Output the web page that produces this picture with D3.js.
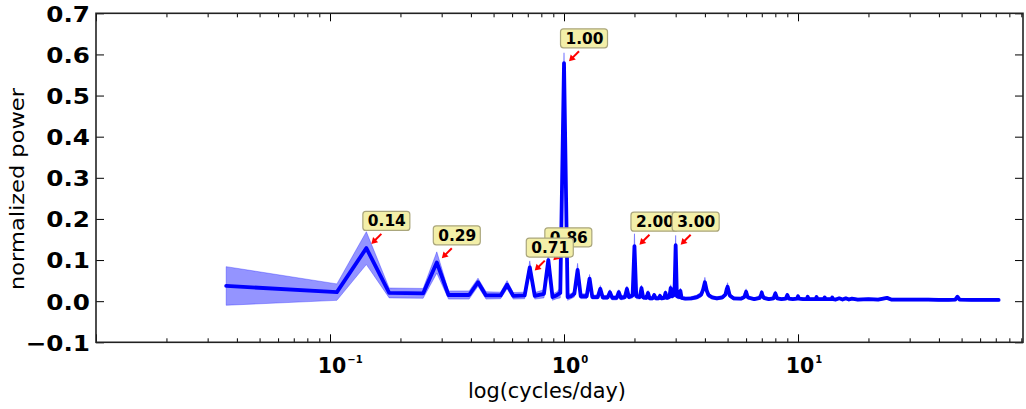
<!DOCTYPE html>
<html><head><meta charset="utf-8">
<script src="https://cdn.jsdelivr.net/npm/d3@7"></script>
<style>body{margin:0;background:#fff}svg{display:block}</style>
</head><body><svg id="c" width="1026" height="409"></svg>
<script>
// ---- data (cycles/day, normalized power mean and spread) ----
const freqLow = [0.036,0.107,0.143,0.179,0.25,0.286,0.321,0.393,0.429,0.464,0.536,0.571,0.607,0.679,0.714,0.75,0.821,0.857,0.893,0.929,0.964,1.0,1.036];
const meanLow = [0.037,0.022,0.129,0.020,0.019,0.094,0.015,0.015,0.046,0.014,0.014,0.040,0.013,0.014,0.082,0.013,0.018,0.100,0.010,0.014,0.020,0.579,0.010];
const sdLow   = [0.047,0.020,0.040,0.012,0.012,0.026,0.010,0.010,0.010,0.009,0.008,0.010,0.008,0.008,0.016,0.008,0.010,0.020,0.008,0.008,0.012,0.025,0.008];

const freqMid1 = [1.071,1.107,1.143,1.179,1.25,1.286,1.321,1.393,1.429,1.464,1.536,1.571,1.607,1.679,1.714,1.75,1.821,1.857,1.893,1.964,2.0,2.036];
const meanMid1 = [0.012,0.018,0.076,0.012,0.012,0.055,0.010,0.010,0.030,0.009,0.009,0.022,0.008,0.008,0.022,0.008,0.010,0.030,0.010,0.014,0.134,0.012];
const sdMid1   = [0.006,0.008,0.016,0.006,0.006,0.010,0.005,0.005,0.008,0.005,0.005,0.006,0.005,0.005,0.006,0.005,0.005,0.007,0.005,0.006,0.030,0.006];

const freqMid2 = [2.107,2.143,2.179,2.25,2.286,2.321,2.393,2.429,2.464,2.536,2.571,2.607,2.679,2.714,2.75,2.821,2.857,2.893,2.964,3.0,3.036];
const meanMid2 = [0.010,0.032,0.009,0.008,0.020,0.007,0.007,0.015,0.007,0.007,0.013,0.007,0.008,0.020,0.008,0.010,0.032,0.012,0.016,0.136,0.012];
const sdMid2   = [0.005,0.007,0.005,0.004,0.006,0.004,0.004,0.005,0.004,0.004,0.005,0.004,0.004,0.006,0.004,0.005,0.008,0.005,0.006,0.024,0.005];

const freqMid3 = [3.107,3.143,3.179,3.3,3.5,3.7,3.857,3.929,4.0,4.071,4.143,4.3,4.5,4.75,4.893,4.964,5.0,5.036,5.107,5.3,5.7,5.893,5.964,6.0,6.036,6.107,6.5,6.857,6.964,7.0,7.036,7.143,7.5,7.857,8.0,8.143,8.5,8.857,9.0,9.143,9.5,9.893,10.0,10.107,10.5,10.893,11.0,11.107,11.893,12.0,12.107,12.893,13.0,13.107,13.893,14.0,14.107];
const meanMid3 = [0.010,0.025,0.008,0.006,0.007,0.010,0.016,0.028,0.046,0.026,0.015,0.009,0.007,0.009,0.016,0.030,0.035,0.028,0.014,0.007,0.006,0.010,0.018,0.023,0.017,0.009,0.005,0.008,0.016,0.021,0.015,0.008,0.005,0.007,0.019,0.007,0.005,0.006,0.015,0.006,0.005,0.006,0.012,0.006,0.005,0.005,0.011,0.005,0.005,0.010,0.005,0.005,0.009,0.005,0.005,0.009,0.005];
const sdMid3   = [0.005,0.007,0.004,0.003,0.004,0.005,0.006,0.008,0.012,0.008,0.006,0.004,0.004,0.004,0.005,0.008,0.010,0.008,0.005,0.004,0.003,0.004,0.006,0.007,0.006,0.004,0.003,0.004,0.005,0.006,0.005,0.004,0.003,0.003,0.006,0.003,0.003,0.003,0.005,0.003,0.003,0.003,0.004,0.003,0.003,0.003,0.004,0.003,0.003,0.004,0.003,0.003,0.003,0.003,0.003,0.003,0.003];

const freqHigh = [14.5,15,15.5,16,16.5,17,18,20,22,24,25,28,32,36,40,44,47,48,49,55,62,72];
const meanHigh = [0.004,0.007,0.004,0.007,0.004,0.006,0.004,0.005,0.004,0.008,0.004,0.004,0.004,0.004,0.003,0.003,0.004,0.011,0.004,0.003,0.003,0.003];
const sdHigh   = [0.003,0.003,0.003,0.003,0.003,0.003,0.003,0.003,0.003,0.003,0.003,0.003,0.003,0.003,0.003,0.003,0.003,0.004,0.003,0.003,0.003,0.003];

// annotations
const annLabels = ["0.14","0.29","0.86","0.71","1.00","2.00","3.00"];
const annFreq   = [0.143,0.286,0.857,0.714,1.0,2.0,3.0];
const annPower  = [0.132,0.097,0.092,0.067,0.576,0.130,0.130];

// axis ticks
const yTicks = [-0.1,0.0,0.1,0.2,0.3,0.4,0.5,0.6,0.7];
const xMajor = [0.01,0.1,1,10];
const xMajorExp = ["−2","−1","0","1"];

// ---- drawing ----
const freq = [].concat(freqLow,freqMid1,freqMid2,freqMid3,freqHigh);
const mean = [].concat(meanLow,meanMid1,meanMid2,meanMid3,meanHigh);
const sd   = [].concat(sdLow,sdMid1,sdMid2,sdMid3,sdHigh);
const n = Math.min(freq.length, mean.length, sd.length);
const data = d3.range(n).map(i=>({f:freq[i], m:mean[i], s:sd[i]}));

const L=96, R=1023, T=13.3, B=342.3;
const x = d3.scaleLog().domain([0.01, 91.5]).range([L, R]);
const y = d3.scaleLinear().domain([-0.1, 0.7]).range([B, T]);
const svg = d3.select('#c');
svg.append('defs').append('clipPath').attr('id','clip')
  .append('rect').attr('x',L).attr('y',T).attr('width',R-L).attr('height',B-T);

const g = svg.append('g').attr('clip-path','url(#clip)');
const area = d3.area().x(d=>x(d.f)).y0(d=>y(d.m-d.s)).y1(d=>y(d.m+d.s));
const line = d3.line().x(d=>x(d.f)).y(d=>y(d.m));
g.append('path').attr('d',area(data)).attr('fill','#0000ff').attr('fill-opacity',0.42)
  .attr('stroke','#0000ff').attr('stroke-opacity',0.3).attr('stroke-width',1);
g.append('path').attr('d',line(data)).attr('fill','none').attr('stroke','#0000ff')
  .attr('stroke-width',3.8).attr('stroke-linejoin','round').attr('stroke-linecap','round');

// axes ticks (inside), all four sides
const minor = x.ticks().filter(v=>Math.abs(Math.log10(v)-Math.round(Math.log10(v)))>1e-6);
function xt(axisFn, ty, vals, size){
  svg.append('g').attr('transform',`translate(0,${ty})`)
    .call(axisFn(x).tickValues(vals).tickSize(size).tickSizeOuter(0).tickFormat(''))
    .call(s=>{s.select('.domain').remove(); s.selectAll('line').attr('stroke','#000').attr('stroke-width',1);});
}
xt(d3.axisBottom, B, xMajor, -8); xt(d3.axisBottom, B, minor, -4);
xt(d3.axisTop, T, xMajor, -8); xt(d3.axisTop, T, minor, -4);

const yl = svg.append('g').attr('transform',`translate(${L},0)`)
  .call(d3.axisLeft(y).tickValues(yTicks).tickSize(-8).tickSizeOuter(0).tickPadding(6).tickFormat(d3.format('.1f')));
yl.select('.domain').remove();
yl.selectAll('line').attr('stroke','#000');
yl.selectAll('text').attr('font-family','DejaVu Sans').attr('font-weight','bold').attr('font-size',22)
  .attr('fill','#000').attr('dy','0.36em')
  .each(function(){ const w=this.getComputedTextLength(); d3.select(this).attr('textLength',w*1.12).attr('lengthAdjust','spacingAndGlyphs'); });
const yr = svg.append('g').attr('transform',`translate(${R},0)`)
  .call(d3.axisRight(y).tickValues(yTicks).tickSize(-8).tickSizeOuter(0).tickFormat(''));
yr.select('.domain').remove(); yr.selectAll('line').attr('stroke','#000');

// frame
svg.append('rect').attr('x',L).attr('y',T).attr('width',R-L).attr('height',B-T)
  .attr('fill','none').attr('stroke','#222').attr('stroke-width',1.6);

// x tick labels with superscripts
xMajor.forEach((v,i)=>{
  if (v < 0.05) return; // the 10^-2 tick sits on the left spine and is unlabelled in the reference
  const cx = x(v)+2;
  const t = svg.append('text').attr('x',cx).attr('y',373).attr('text-anchor','middle')
    .attr('font-family','DejaVu Sans').attr('font-weight','bold').attr('font-size',20.5).attr('fill','#000').text('10');
  const w = t.node().getComputedTextLength();
  svg.append('text').attr('x',cx+w/2+1).attr('y',363).attr('font-family','DejaVu Sans')
    .attr('font-weight','bold').attr('font-size',10).attr('fill','#000').text(xMajorExp[i]);
});

// axis titles
svg.append('text').attr('x',547).attr('y',398).attr('text-anchor','middle')
  .attr('font-family','DejaVu Sans').attr('font-size',21).attr('fill','#000')
  .attr('textLength',158).attr('lengthAdjust','spacingAndGlyphs').text('log(cycles/day)');
svg.append('text').attr('transform','translate(24,189) rotate(-90)').attr('text-anchor','middle')
  .attr('font-family','DejaVu Sans').attr('font-size',19).attr('fill','#000')
  .attr('textLength',202).attr('lengthAdjust','spacingAndGlyphs').text('normalized power');

// annotations
annLabels.forEach((lab,i)=>{
  const ax = x(annFreq[i]), ay = y(annPower[i]);
  const ga = svg.append('g');
  ga.append('rect').attr('x',ax-3.5).attr('y',ay-35.5).attr('width',47).attr('height',19)
    .attr('rx',3).attr('ry',3).attr('fill','#f3efa8').attr('stroke','#aaa67c').attr('stroke-width',1.2);
  ga.append('text').attr('x',ax+1.5).attr('y',ay-20.5).attr('font-family','DejaVu Sans')
    .attr('font-weight','bold').attr('font-size',15).attr('fill','#000')
    .attr('textLength',38).attr('lengthAdjust','spacingAndGlyphs').text(lab);
  // arrow
  const tx = ax+15, ty = ay-13, px = ax+5, py = ay-3;
  const dx = px-tx, dy = py-ty, len = Math.hypot(dx,dy), ux=dx/len, uy=dy/len, nx=-uy, ny=ux;
  const hl=6, hw=3.6;
  ga.append('line').attr('x1',tx).attr('y1',ty).attr('x2',px-ux*hl*0.8).attr('y2',py-uy*hl*0.8)
    .attr('stroke','#ff0000').attr('stroke-width',2);
  ga.append('path').attr('d',`M${px},${py}L${px-ux*hl+nx*hw},${py-uy*hl+ny*hw}L${px-ux*hl-nx*hw},${py-uy*hl-ny*hw}Z`)
    .attr('fill','#ff0000');
});
</script></body></html>
